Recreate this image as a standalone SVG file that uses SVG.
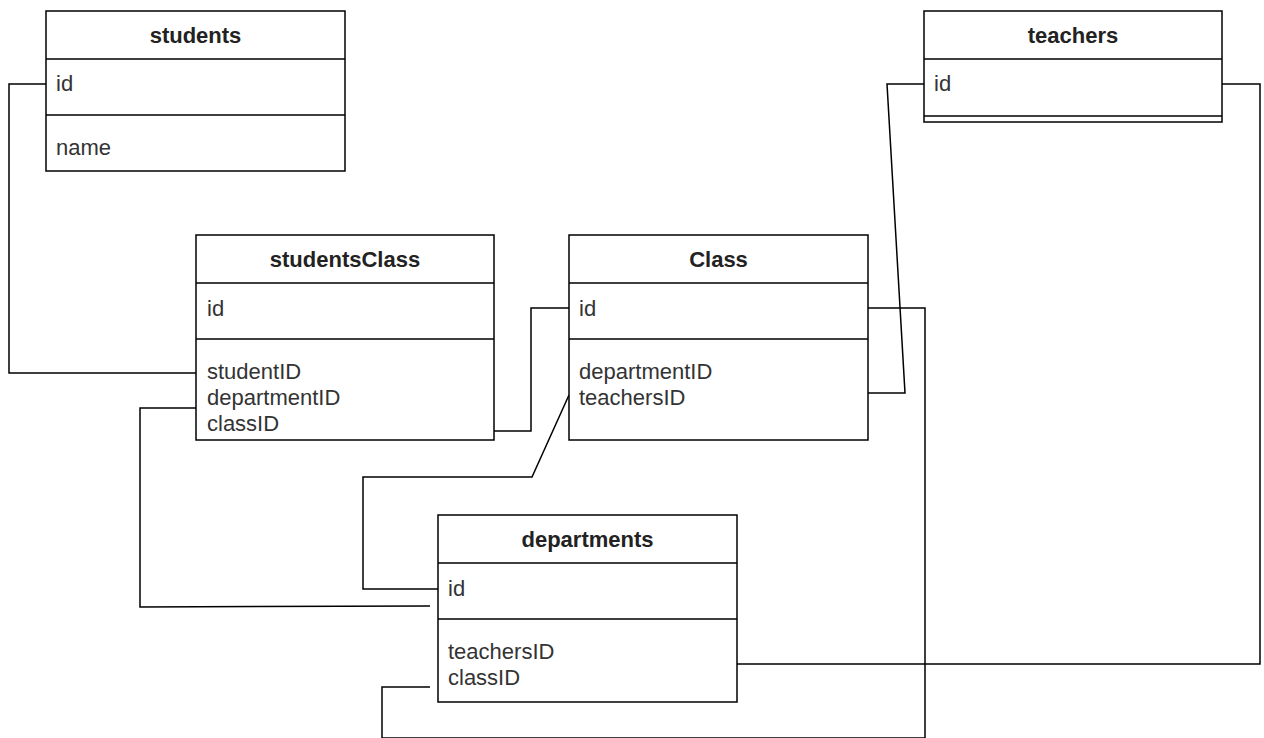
<svg xmlns="http://www.w3.org/2000/svg" width="1264" height="738" viewBox="0 0 1264 738">
<style>
.box{fill:#fff;stroke:#000;stroke-width:1.5}
.div{stroke:#000;stroke-width:1.5;fill:none}
.hdr{font-family:"Liberation Sans",Arial,sans-serif;font-size:22px;font-weight:bold;fill:#222;text-anchor:middle}
.att{font-family:"Liberation Sans",Arial,sans-serif;font-size:22px;fill:#333}
.con{fill:none;stroke:#000;stroke-width:1.5;stroke-linejoin:miter}
</style>
<rect width="1264" height="738" fill="#fff"/>
<g id="connectors">
<path class="con" d="M46,84 H9 V373 H196"/>
<path class="con" d="M196,408 H140 V607 L430,606"/>
<path class="con" d="M494,431 H531 V308 H569"/>
<path class="con" d="M569,395 L532,477 H363 V589 H438"/>
<path class="con" d="M924,84 H887 L905,393 H868"/>
<path class="con" d="M868,308 H925 V738 H382 V687 H430"/>
<path class="con" d="M1222,84 H1260 V664 H737"/>
</g>
<g id="students">
<rect class="box" x="46" y="11" width="299" height="160"/>
<path class="div" d="M46,59 H345 M46,115 H345"/>
<text class="hdr" x="195.5" y="43">students</text>
<text class="att" x="56" y="91">id</text>
<text class="att" x="56" y="155">name</text>
</g>
<g id="teachers">
<rect class="box" x="924" y="11" width="298" height="111"/>
<path class="div" d="M924,59 H1222 M924,116 H1222"/>
<text class="hdr" x="1073" y="43">teachers</text>
<text class="att" x="934" y="91">id</text>
</g>
<g id="studentsClass">
<rect class="box" x="196" y="235" width="298" height="205"/>
<path class="div" d="M196,283 H494 M196,339 H494"/>
<text class="hdr" x="345" y="267">studentsClass</text>
<text class="att" x="207" y="316">id</text>
<text class="att" x="207" y="379">studentID</text>
<text class="att" x="207" y="405">departmentID</text>
<text class="att" x="207" y="431">classID</text>
</g>
<g id="Class">
<rect class="box" x="569" y="235" width="299" height="205"/>
<path class="div" d="M569,283 H868 M569,339 H868"/>
<text class="hdr" x="718.5" y="267">Class</text>
<text class="att" x="579" y="316">id</text>
<text class="att" x="579" y="379">departmentID</text>
<text class="att" x="579" y="405">teachersID</text>
</g>
<g id="departments">
<rect class="box" x="438" y="515" width="299" height="187"/>
<path class="div" d="M438,563 H737 M438,619 H737"/>
<text class="hdr" x="587.5" y="547">departments</text>
<text class="att" x="448" y="596">id</text>
<text class="att" x="448" y="659">teachersID</text>
<text class="att" x="448" y="685">classID</text>
</g>
</svg>
